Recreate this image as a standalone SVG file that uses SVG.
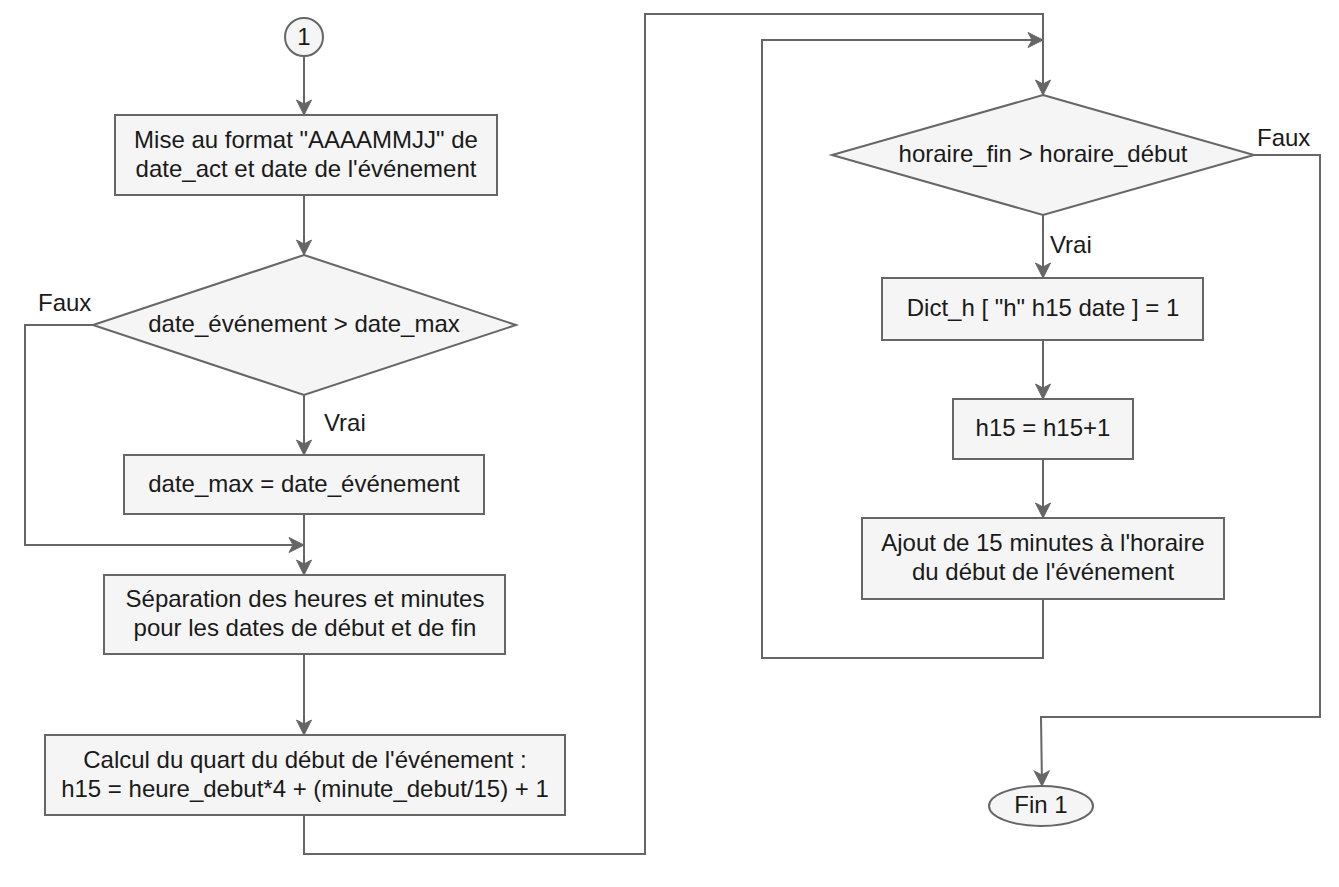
<svg xmlns="http://www.w3.org/2000/svg" width="1339" height="887" viewBox="0 0 1339 887">
<style>
.n{fill:#f5f5f5;stroke:#666666;stroke-width:2}
.t{font-family:"Liberation Sans",Arial,sans-serif;font-size:24px;fill:#1a1a1a;text-anchor:middle}
.l{font-family:"Liberation Sans",Arial,sans-serif;font-size:24px;fill:#1a1a1a}
.c{fill:none;stroke:#666666;stroke-width:2}
</style>
<defs>
<marker id="arr" markerUnits="userSpaceOnUse" markerWidth="20" markerHeight="20" viewBox="0 0 20 20" refX="16" refY="8" orient="auto">
<path d="M16,8 L1,0.5 L5,8 L1,15.5 Z" fill="#666666" stroke="#666666" stroke-width="1"/>
</marker>
</defs>
<rect width="1339" height="887" fill="#ffffff"/>
<g id="connectors">
<path class="c" d="M304,56 L304,115" marker-end="url(#arr)"/>
<path class="c" d="M304,195 L304,255" marker-end="url(#arr)"/>
<path class="c" d="M304,395 L304,455" marker-end="url(#arr)"/>
<path class="c" d="M93,325 L25,325 L25,545 L304,545" marker-end="url(#arr)"/>
<path class="c" d="M304,514 L304,575" marker-end="url(#arr)"/>
<path class="c" d="M304,654 L304,735" marker-end="url(#arr)"/>
<path class="c" d="M304,815 L304,854 L645,854 L645,14 L1043,14 L1043,95" marker-end="url(#arr)"/>
<path class="c" d="M1043,215 L1043,278" marker-end="url(#arr)"/>
<path class="c" d="M1043,340 L1043,399" marker-end="url(#arr)"/>
<path class="c" d="M1043,459 L1043,518" marker-end="url(#arr)"/>
<path class="c" d="M1043,599 L1043,658 L762,658 L762,40 L1043,40" marker-end="url(#arr)"/>
<path class="c" d="M1254,155 L1320,155 L1320,717 L1041,717 L1042,786" marker-end="url(#arr)"/>
<text class="l" x="38" y="311">Faux</text>
<text class="l" x="324" y="431">Vrai</text>
<text class="l" x="1257" y="146">Faux</text>
<text class="l" x="1050" y="253">Vrai</text>
</g>
<g id="start1">
<circle class="n" cx="304" cy="37" r="19"/>
<text class="t" x="304" y="45">1</text>
</g>
<g id="format">
<rect class="n" x="115" y="115" width="382" height="80"/>
<text class="t" x="306" y="148">Mise au format "AAAAMMJJ" de</text>
<text class="t" x="306" y="177">date_act et date de l'événement</text>
</g>
<g id="cond1">
<polygon class="n" points="304,255 516,325 304,395 93,325"/>
<text class="t" x="304" y="332">date_événement &gt; date_max</text>
</g>
<g id="datemax">
<rect class="n" x="124" y="455" width="360" height="59"/>
<text class="t" x="304" y="492">date_max = date_événement</text>
</g>
<g id="separation">
<rect class="n" x="104" y="575" width="401" height="79"/>
<text class="t" x="305" y="607">Séparation des heures et minutes</text>
<text class="t" x="305" y="636">pour les dates de début et de fin</text>
</g>
<g id="calcul">
<rect class="n" x="45" y="735" width="520" height="80"/>
<text class="t" x="305" y="768">Calcul du quart du début de l'événement :</text>
<text class="t" x="305" y="797">h15 = heure_debut*4 + (minute_debut/15) + 1</text>
</g>
<g id="cond2">
<polygon class="n" points="1043,95 1254,155 1043,215 832,155"/>
<text class="t" x="1043" y="162">horaire_fin &gt; horaire_début</text>
</g>
<g id="dict">
<rect class="n" x="882" y="278" width="321" height="62"/>
<text class="t" x="1043" y="316">Dict_h [ "h" h15 date ] = 1</text>
</g>
<g id="incr">
<rect class="n" x="953" y="399" width="180" height="60"/>
<text class="t" x="1043" y="436">h15 = h15+1</text>
</g>
<g id="ajout">
<rect class="n" x="862" y="518" width="362" height="81"/>
<text class="t" x="1043" y="551">Ajout de 15 minutes à l'horaire</text>
<text class="t" x="1043" y="580">du début de l'événement</text>
</g>
<g id="fin1">
<ellipse class="n" cx="1041" cy="806" rx="52" ry="20"/>
<text class="t" x="1041" y="813">Fin 1</text>
</g>
</svg>
